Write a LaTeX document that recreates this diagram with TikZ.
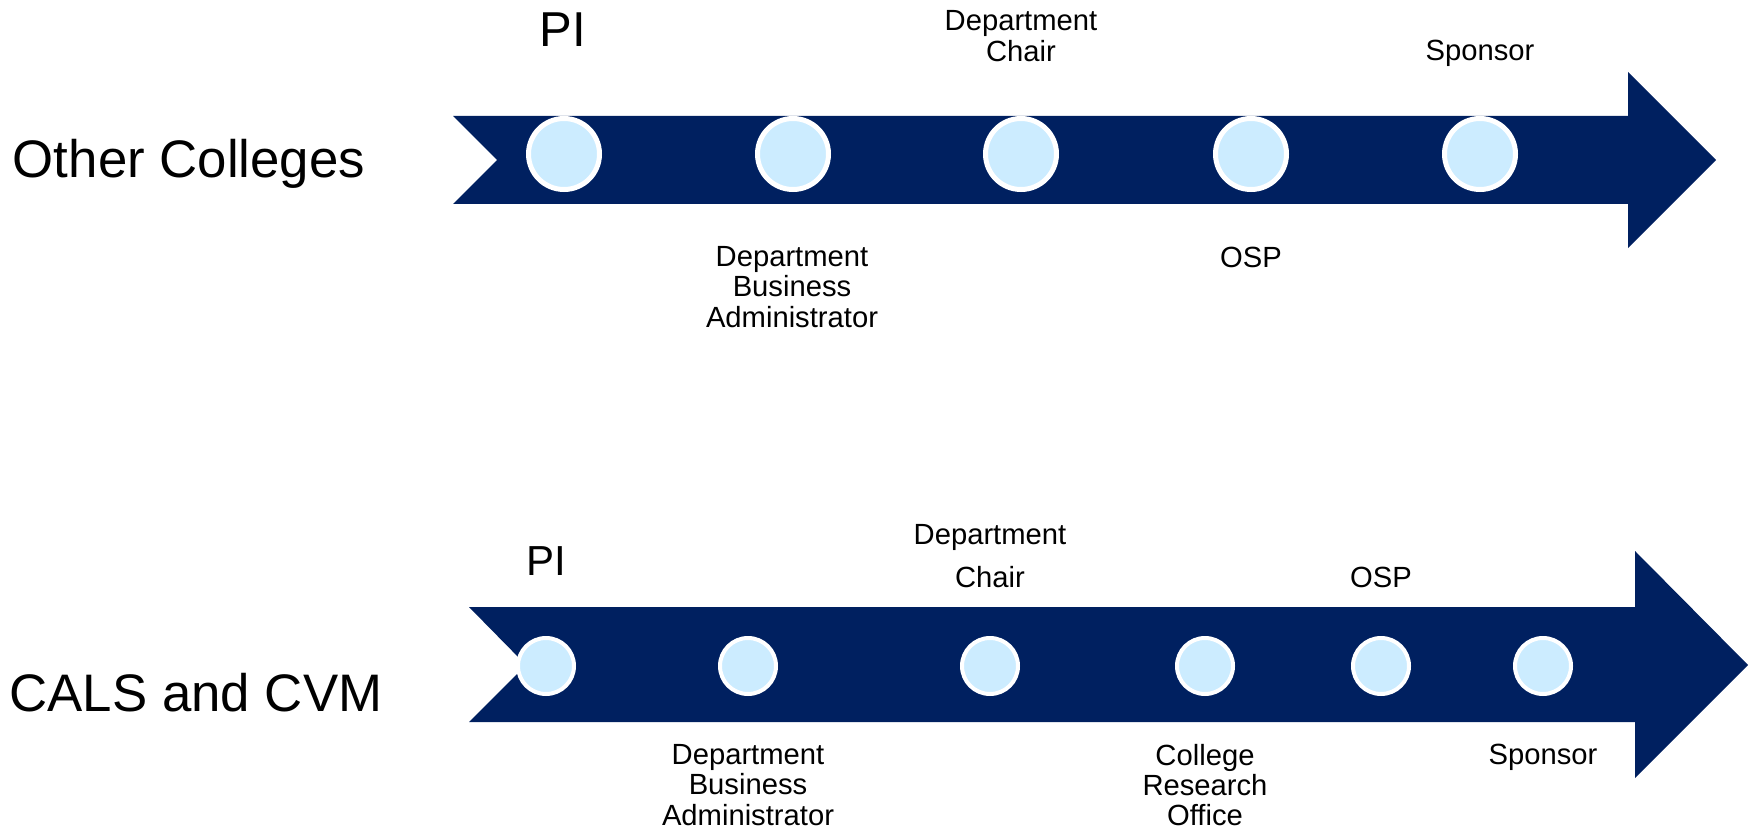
\documentclass[tikz,border=0pt]{standalone}
\usepackage{fontspec}
\setmainfont{Liberation Sans}
\definecolor{navy}{HTML}{002060}
\definecolor{lightdot}{HTML}{CCECFF}
\begin{document}
\begin{tikzpicture}[x=0.5pt,y=-0.5pt,
  band/.style={fill=navy,draw=none},
  bigdot/.style={circle,fill=lightdot,draw=white,line width=2.5pt,minimum size=35.5pt,inner sep=0pt},
  smalldot/.style={circle,fill=lightdot,draw=white,line width=2pt,minimum size=28pt,inner sep=0pt},
  lbl/.style={inner sep=0pt,align=center,font=\fontsize{14.6}{15.2}\selectfont},
  lblwide/.style={inner sep=0pt,align=center,font=\fontsize{14.6}{21.3}\selectfont},
  rowlbl/.style={inner sep=0pt,font=\fontsize{26.4}{30}\selectfont},
  pilbl/.style={inner sep=0pt}
]
\useasboundingbox (0,0) rectangle (1758,829);
% top band
\fill[band] (453,116) -- (1628,116) -- (1628,72) -- (1716,160) -- (1628,248) -- (1628,204) -- (453,204) -- (497,160) -- cycle;
% bottom band
\fill[band] (469,607) -- (1635,607) -- (1635,551) -- (1748,665) -- (1635,778) -- (1635,722) -- (469,722) -- (526,665) -- cycle;
% top dots
\node[bigdot] (t1) at (564,154) {};
\node[bigdot] (t2) at (793,154) {};
\node[bigdot] (t3) at (1021,154) {};
\node[bigdot] (t4) at (1251,154) {};
\node[bigdot] (t5) at (1480,154) {};
% bottom dots
\node[smalldot] (b1) at (546,666) {};
\node[smalldot] (b2) at (748,666) {};
\node[smalldot] (b3) at (990,666) {};
\node[smalldot] (b4) at (1205,666) {};
\node[smalldot] (b5) at (1381,666) {};
\node[smalldot] (b6) at (1543,666) {};
% row labels
\node[rowlbl] (r1) at (189,164) {Other Colleges};
\node[rowlbl] (r2) at (196,693) {CALS and CVM};
% top labels
\node[pilbl,font=\fontsize{24.5}{28}\selectfont] (tl1) at (563,30) {PI};
\node[lbl] (tl3) at (1021,36) {Department\\Chair};
\node[lbl] (tl5) at (1480,53) {Sponsor};
\node[lbl] (tl2) at (792,287) {Department\\Business\\Administrator};
\node[lbl] (tl4) at (1251,257) {OSP};
% bottom labels
\node[pilbl,font=\fontsize{21}{24}\selectfont] (bl1) at (546,561) {PI};
\node[lblwide] (bl3) at (990,556) {Department\\Chair};
\node[lbl] (bl5) at (1381,577) {OSP};
\node[lbl] (bl2) at (748,785) {Department\\Business\\Administrator};
\node[lbl] (bl4) at (1205,785) {College\\Research\\Office};
\node[lbl] (bl6) at (1543,757) {Sponsor};
\end{tikzpicture}
\end{document}
